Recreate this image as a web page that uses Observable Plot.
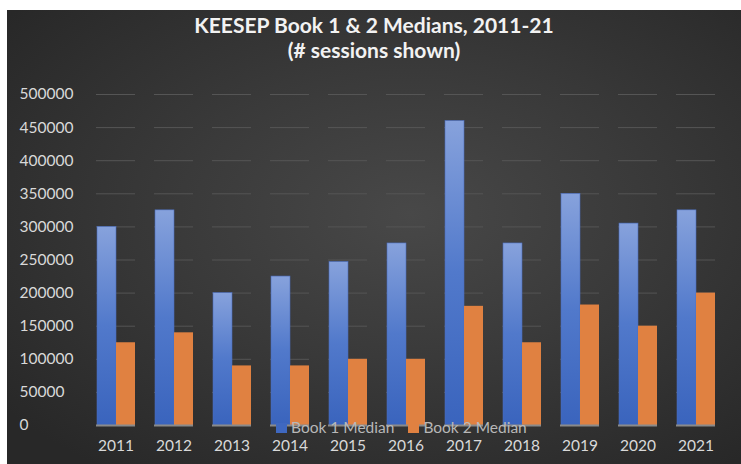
<!DOCTYPE html>
<html>
<head>
<meta charset="utf-8">
<script src="https://cdn.jsdelivr.net/npm/d3@7"></script>
<script src="https://cdn.jsdelivr.net/npm/@observablehq/plot@0.6"></script>
<style>
  html, body { margin: 0; padding: 0; background: #ffffff; }
  #wrap { position: relative; width: 741px; height: 464px; overflow: hidden; font-family: Lato, "Open Sans", sans-serif; }
  #bg { position: absolute; left: 7px; top: 10px; right: 0; bottom: 0;
        background: radial-gradient(ellipse 70% 70% at 55% 45%, #484848 0%, #3a3a3a 45%, #282828 100%); }
  .title { position: absolute; left: 7px; right: 0; text-align: center; color: #f2f2f2; font-weight: 700; line-height: 1.2; }
  #t1 { top: 12px; font-size: 21px; }
  #t2 { top: 37px; font-size: 21px; }
  #chart { position: absolute; left: 0; top: 0; }
  #legend { position: absolute; top: 420px; left: 276px; display: flex; align-items: center; color: #b8b8b8; font-size: 15.5px; line-height: 15px; white-space: nowrap; }
  #legend .sw { width: 11px; height: 10px; display: inline-block; margin-right: 4px; }
  #legend .item { display: flex; align-items: center; margin-right: 14px; }
</style>
</head>
<body>
<div id="wrap">
  <div id="bg"></div>
  <div class="title" id="t1">KEESEP Book 1 &amp; 2 Medians, 2011-21</div>
  <div class="title" id="t2">(# sessions shown)</div>
  <div id="chart"></div>
  <div id="legend">
    <span class="item"><span class="sw" style="background:#3f68c0"></span>Book 1 Median</span>
    <span class="item"><span class="sw" style="background:#e08141"></span>Book 2 Median</span>
  </div>
</div>
<script>
const years = ["2011","2012","2013","2014","2015","2016","2017","2018","2019","2020","2021"];
const seriesNames = ["Book 1 Median", "Book 2 Median"];
const book1 = [300000, 325000, 200000, 225000, 247000, 275000, 460000, 275000, 350000, 305000, 325000];
const book2 = [125000, 140000, 90000, 90000, 100000, 100000, 180000, 125000, 182000, 150000, 200000];
const yTicks = [0, 50000, 100000, 150000, 200000, 250000, 300000, 350000, 400000, 450000, 500000];

const data1 = years.map((y, i) => ({year: y, series: seriesNames[0], value: book1[i]}));
const data2 = years.map((y, i) => ({year: y, series: seriesNames[1], value: book2[i]}));

const svg = Plot.plot({
  width: 741,
  height: 464,
  marginLeft: 82,
  marginRight: 12,
  marginTop: 94,
  marginBottom: 39,
  style: {background: "transparent", color: "#d9d9d9", fontFamily: "Lato, 'Open Sans', sans-serif", fontSize: "15px"},
  fx: {domain: years, paddingInner: 1/3, paddingOuter: 1/6, label: null},
  x: {domain: seriesNames, padding: 0, axis: null},
  y: {domain: [0, 500000], label: null},
  marks: [
    Plot.gridY(yTicks, {stroke: "#555555", strokeOpacity: 1, strokeWidth: 1}),
    Plot.barY(data1, {fx: "year", x: "series", y: "value", fill: "url(#b1grad)", stroke: "#4a6cbb", strokeWidth: 0.6}),
    Plot.barY(data2, {fx: "year", x: "series", y: "value", fill: "#e08141"}),
    Plot.ruleY([0], {stroke: "#8a8a8a", strokeWidth: 2}),
    Plot.axisY(yTicks, {tickSize: 0, tickPadding: 0, textAnchor: "start", dx: -77, fill: "#d9d9d9", fontSize: 15.5, tickFormat: d => String(d), label: null}),
    Plot.axisFx({anchor: "bottom", tickSize: 0, tickPadding: 14, fill: "#d9d9d9", fontSize: 15.5, label: null})
  ]
});

const defs = d3.select(svg).insert("defs", ":first-child");
const g = defs.append("linearGradient").attr("id", "b1grad").attr("x1", 0).attr("y1", 0).attr("x2", 0).attr("y2", 1);
g.append("stop").attr("offset", "0").attr("stop-color", "#87a2dc");
g.append("stop").attr("offset", "0.5").attr("stop-color", "#5179cb");
g.append("stop").attr("offset", "1").attr("stop-color", "#3a64bd");

document.getElementById("chart").appendChild(svg);
</script>
</body>
</html>
